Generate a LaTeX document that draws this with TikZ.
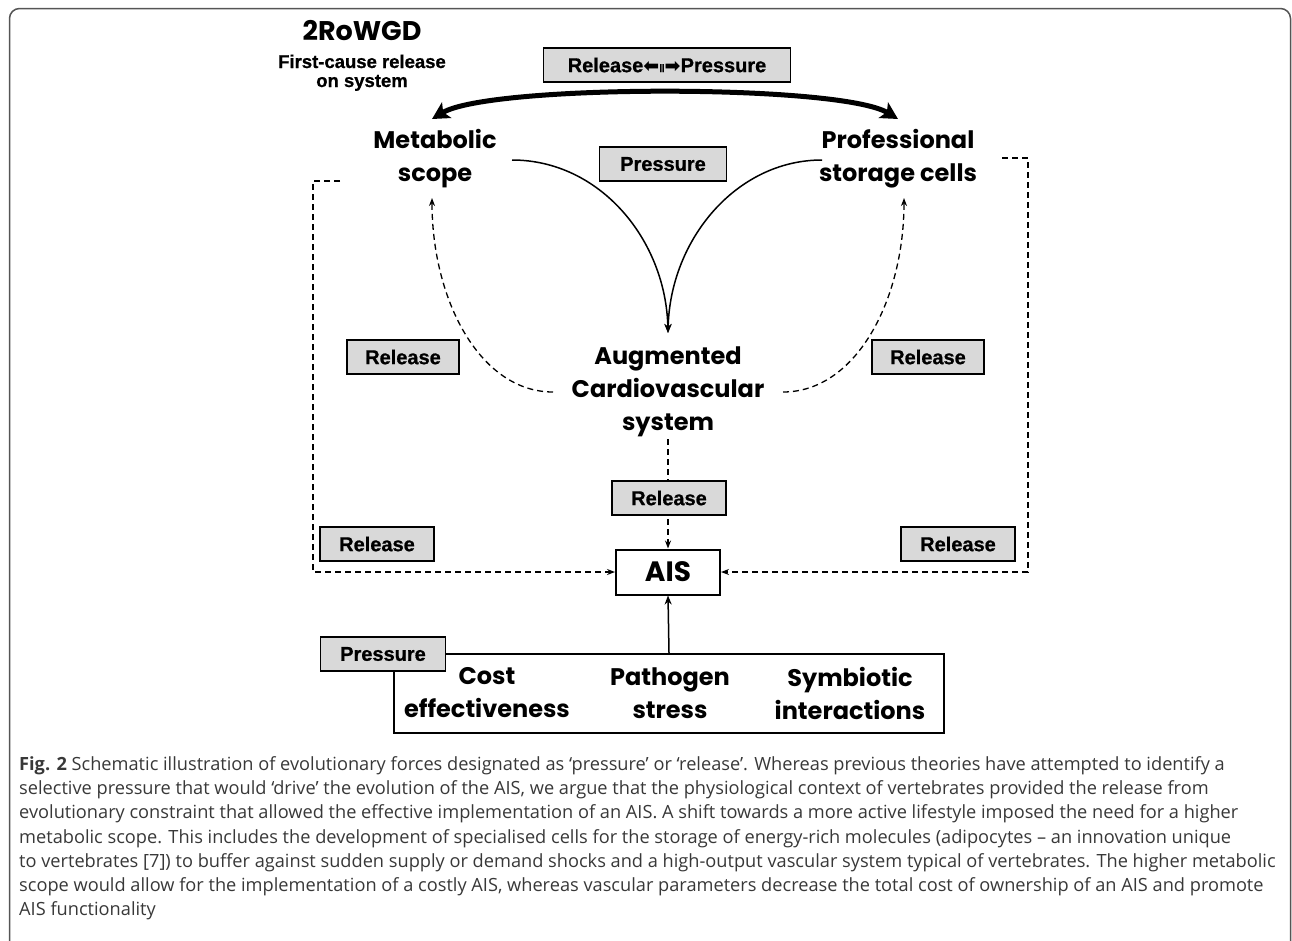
\documentclass[tikz,border=0pt]{standalone}
\usepackage{fontspec}
\setmainfont{Open Sans}
\newfontfamily\geo{Poppins}
\newfontfamily\lab[BoldFeatures={FakeBold=0.8}]{Liberation Sans}
\newfontfamily\dejavu{DejaVu Sans}
\usetikzlibrary{arrows.meta}
\definecolor{boxgray}{HTML}{D9D9D9}
\definecolor{captext}{HTML}{383838}
\definecolor{framegray}{HTML}{555555}
\begin{document}
\begin{tikzpicture}[x=1pt,y=-1pt,
  tag/.style={draw, line width=1.8pt, fill=boxgray, font=\lab\bfseries\fontsize{20}{22}\selectfont, minimum height=34pt, inner sep=0pt},
  concept/.style={font=\geo\bfseries\fontsize{24}{33}\selectfont, align=center, inner sep=2pt},
  subhead/.style={font=\lab\bfseries\fontsize{18.5}{20}\selectfont, inner sep=0pt, anchor=base},
  darr/.style={line width=1.3pt, dash pattern=on 6pt off 4pt, -{Stealth[length=8pt,width=6pt]}},
  sarr/.style={line width=1.5pt, -{Stealth[length=9pt,width=7pt]}},
  thick arrow/.style={line width=5pt, {Stealth[length=17pt,width=18pt,inset=4pt]}-{Stealth[length=17pt,width=18pt,inset=4pt]}}
]
\useasboundingbox (0,0) rectangle (1292,940);
\draw[line width=1.5pt, rounded corners=10pt, draw=framegray] (9.5,8.5) rectangle (1290.5,970);

% headings
\node[font=\geo\bfseries\fontsize{27}{30}\selectfont, inner sep=0pt, anchor=base] (rowgd) at (362,40) {2RoWGD};
\node[subhead] (first) at (362,68) {First-cause release};
\node[subhead] (onsys) at (362,87) {on system};

% concept nodes
\node[concept] (meta) at (435,159) {Metabolic\\scope};
\node[concept] (prof) at (898,159) {Professional\\storage cells};
\node[concept] (acs) at (668,392) {Augmented\\Cardiovascular\\system};
\node[draw, line width=2pt, fill=white, minimum width=104pt, minimum height=45pt, inner sep=0pt, font=\geo\bfseries\fontsize{28}{30}\selectfont] (ais) at (668,572) {AIS};
\node[draw, line width=2pt, minimum width=550pt, minimum height=79pt, inner sep=0pt] (fac) at (669,693.5) {};
\node[concept] (cost) at (487,693) {Cost\\effectiveness};
\node[concept] (path) at (670,693) {Pathogen\\stress};
\node[concept] (sym) at (850,693) {Symbiotic\\interactions};

% coordinates for free ends
\coordinate (ta) at (432,119);
\coordinate (tb) at (898,119);
\coordinate (ms) at (512,160);
\coordinate (ps) at (822,160);
\coordinate (acstop) at (668,333);
\coordinate (cl) at (553,392);
\coordinate (cr) at (783,392);
\coordinate (mb) at (432,198);
\coordinate (pb) at (904,198);
\coordinate (l0) at (340,181);
\coordinate (lcorner) at (313,181);
\coordinate (r0) at (1002,158);
\coordinate (rcorner) at (1028,158);

% connectors
\draw[thick arrow] (ta) .. controls (490,84) and (840,84) .. (tb);
\draw[sarr] (ms) .. controls (600,160) and (666,240) .. (acstop);
\draw[sarr] (ps) .. controls (736,160) and (670,240) .. (acstop);
\draw[darr] (cl) .. controls (480,392) and (432,300) .. (mb);
\draw[darr] (cr) .. controls (856,392) and (904,300) .. (pb);
\draw[darr] (acs.south) -- (ais.north);
\draw[darr] (l0) -- (lcorner) |- (ais.west);
\draw[darr] (r0) -- (rcorner) |- (ais.east);
\draw[sarr] (fac.north) -- (ais.south);

% tags
\node[tag, minimum width=247pt] (rp) at (667,65) {Release{\dejavu\bfseries\fontsize{19}{19}\selectfont ⬅}{\fontsize{11}{11}\selectfont‖}{\dejavu\bfseries\fontsize{19}{19}\selectfont ➡}Pressure};
\node[tag, minimum width=127pt] (p1) at (663,164) {Pressure};
\node[tag, minimum width=112pt] (r1) at (403,357) {Release};
\node[tag, minimum width=112pt] (r2) at (928,357) {Release};
\node[tag, minimum width=114pt] (r3) at (669,498) {Release};
\node[tag, minimum width=114pt] (r4) at (377,544) {Release};
\node[tag, minimum width=114pt] (r5) at (958,544) {Release};
\node[tag, minimum width=125pt] (p2) at (383,654) {Pressure};

% caption
\node[anchor=north west, align=left, font=\fontsize{18.2}{24.3}\selectfont, text=captext, inner sep=0pt] (cap) at (19,756) {\textbf{Fig. 2} Schematic illustration of evolutionary forces designated as ‘pressure’ or ‘release’. Whereas previous theories have attempted to identify a\\
selective pressure that would ‘drive’ the evolution of the AIS, we argue that the physiological context of vertebrates provided the release from\\
evolutionary constraint that allowed the effective implementation of an AIS. A shift towards a more active lifestyle imposed the need for a higher\\
metabolic scope. This includes the development of specialised cells for the storage of energy-rich molecules (adipocytes – an innovation unique\\
to vertebrates [7]) to buffer against sudden supply or demand shocks and a high-output vascular system typical of vertebrates. The higher metabolic\\
scope would allow for the implementation of a costly AIS, whereas vascular parameters decrease the total cost of ownership of an AIS and promote\\
AIS functionality};
\end{tikzpicture}
\end{document}
